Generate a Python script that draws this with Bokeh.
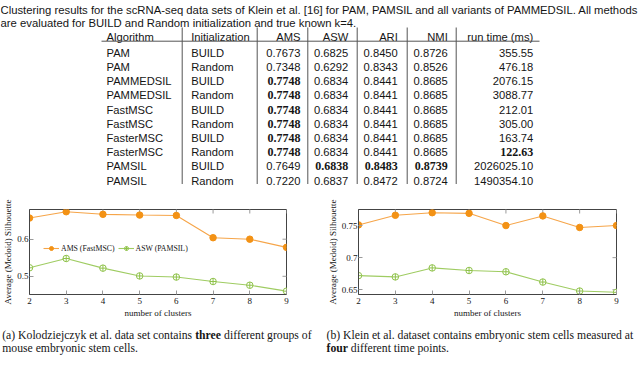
import math
from bokeh.plotting import figure
from bokeh.layouts import column, row
from bokeh.models import Range1d, FixedTicker, ColumnDataSource
from bokeh.core.properties import value
from bokeh.embed import file_html
from bokeh.resources import INLINE

# ---------------- data ----------------
caption_lines = [
    "Clustering results for the scRNA-seq data sets of Klein et al. [16] for PAM, PAMSIL and all variants of PAMMEDSIL. All methods",
    "are evaluated for BUILD and Random initialization and true known k=4.",
]
headers = ["Algorithm", "Initialization", "AMS", "ASW", "ARI", "NMI", "run time (ms)"]
algorithms = ["PAM", "PAM", "PAMMEDSIL", "PAMMEDSIL", "FastMSC", "FastMSC",
              "FasterMSC", "FasterMSC", "PAMSIL", "PAMSIL"]
initializations = ["BUILD", "Random"] * 5
ams = [0.7673, 0.7348, 0.7748, 0.7748, 0.7748, 0.7748, 0.7748, 0.7748, 0.7649, 0.7220]
asw = [0.6825, 0.6292, 0.6834, 0.6834, 0.6834, 0.6834, 0.6834, 0.6834, 0.6838, 0.6837]
ari = [0.8450, 0.8343, 0.8441, 0.8441, 0.8441, 0.8441, 0.8441, 0.8441, 0.8483, 0.8472]
nmi = [0.8726, 0.8526, 0.8685, 0.8685, 0.8685, 0.8685, 0.8685, 0.8685, 0.8739, 0.8724]
run_time_ms = [355.55, 476.18, 2076.15, 3088.77, 212.01, 305.00, 163.74, 122.63,
               2026025.10, 1490354.10]

clusters = [2, 3, 4, 5, 6, 7, 8, 9]
kolo_ams = [0.657, 0.674, 0.667, 0.665, 0.664, 0.604, 0.600, 0.578]
kolo_asw = [0.523, 0.548, 0.522, 0.501, 0.498, 0.486, 0.476, 0.460]
klein_ams = [0.751, 0.766, 0.770, 0.769, 0.750, 0.765, 0.747, 0.750]
klein_asw = [0.672, 0.670, 0.684, 0.680, 0.678, 0.662, 0.648, 0.646]
kolo_yticks = [0.5, 0.6]
klein_yticks = [0.65, 0.7, 0.75]
series_labels = ["AMS (FastMSC)", "ASW (PAMSIL)"]
x_label = "number of clusters"
y_label = "Average (Medoid) Silhouette"
caption_a = [[("(a) Kolodziejczyk et al. data set contains ", False), ("three", True),
              (" different groups of", False)],
             [("mouse embryonic stem cells.", False)]]
caption_b = [[("(b) Klein et al. dataset contains embryonic stem cells measured at", False)],
             [("four", True), (" different time points.", False)]]

# ---------------- layout constants (page pixels) ----------------
W = 640
TOP_H = 186          # page y 0..186
CH_H = 134           # page y 186..320
BOT_H = 46           # page y 320..366
SANS_NAME = "Liberation Sans"
SERIF_NAME = "Liberation Serif"
SANS = value(SANS_NAME)
SERIF = value(SERIF_NAME)
INK = "#151515"
RULE = "#555555"
ORANGE = "#f39215"
ORANGE_LINE = "#f6a549"
GREEN = "#8fc24a"
GREEN_LINE = "#9fcc62"
TICK = "#9a9a9a"
FRAME = "#444444"


def canvas(h):
    p = figure(width=W, height=h, x_range=Range1d(0, W), y_range=Range1d(h, 0),
               output_backend="svg", toolbar_location=None,
               x_axis_location=None, y_axis_location=None,
               min_border=0, outline_line_color=None,
               background_fill_color="white", border_fill_color="white")
    p.grid.visible = False
    return p


# ---------------- top: caption + table ----------------
top = canvas(TOP_H)
top.text(x=[0, 0], y=[9.0, 22.5], text=caption_lines,
         text_font=SANS, text_font_size="11.3px", text_color=INK,
         text_baseline="alphabetic", text_align="left")

col_x = [106, 190.7, 300, 347.7, 397.3, 447.3, 532.7]
col_align = ["left", "left", "right", "right", "right", "right", "right"]
rule_x = [181.7, 256.7, 307.3, 356.7, 406.7, 455.7]
header_base = 36.8
row_base = 52.3
row_step = 14.2

for cx, al, h in zip(col_x, col_align, headers):
    top.text(x=[cx], y=[header_base], text=[h], text_font=SANS,
             text_font_size="11.2px", text_color=INK, text_baseline="alphabetic",
             text_align=al)


def fmt4(v):
    return ["%.4f" % x for x in v]


columns = [
    (algorithms, [False] * len(algorithms)),
    (initializations, [False] * len(initializations)),
    (fmt4(ams), [x == max(ams) for x in ams]),
    (fmt4(asw), [x == max(asw) for x in asw]),
    (fmt4(ari), [x == max(ari) for x in ari]),
    (fmt4(nmi), [x == max(nmi) for x in nmi]),
    (["%.2f" % x for x in run_time_ms], [x == min(run_time_ms) for x in run_time_ms]),
]
for (texts, bold), cx, al in zip(columns, col_x, col_align):
    ys = [row_base + i * row_step for i in range(len(texts))]
    reg = ColumnDataSource(dict(x=[cx] * sum(not b for b in bold),
                                y=[y for y, b in zip(ys, bold) if not b],
                                t=[t for t, b in zip(texts, bold) if not b]))
    top.text(x="x", y="y", text="t", source=reg, text_font=SANS, text_font_size="11.2px",
             text_color=INK, text_baseline="alphabetic", text_align=al)
    if any(bold):
        bsrc = ColumnDataSource(dict(x=[cx] * sum(bold),
                                     y=[y for y, b in zip(ys, bold) if b],
                                     t=[t for t, b in zip(texts, bold) if b]))
        top.text(x="x", y="y", text="t", source=bsrc, text_font=SERIF,
                 text_font_style="bold", text_font_size="12px", text_color=INK,
                 text_baseline="alphabetic", text_align=al)

top.segment(x0=rule_x, y0=[27] * len(rule_x), x1=rule_x, y1=[183.5] * len(rule_x),
            line_color=RULE, line_width=1)
top.segment(x0=[101], y0=[40.7], x1=[539], y1=[40.7], line_color=RULE, line_width=1)


# ---------------- charts ----------------
def chart(ams_vals, asw_vals, yticks, ylim, bl, br, with_legend):
    p = figure(width=320, height=CH_H,
               x_range=Range1d(clusters[0], clusters[-1]), y_range=Range1d(*ylim),
               output_backend="svg", toolbar_location=None,
               min_border_left=bl, min_border_right=br,
               min_border_top=23, min_border_bottom=25,
               outline_line_color=FRAME, outline_line_width=1,
               background_fill_color="white", border_fill_color="white")
    p.grid.visible = False

    xa = p.xaxis[0]
    xa.ticker = FixedTicker(ticks=clusters)
    xa.axis_label = x_label
    xa.major_label_standoff = 3
    xa.axis_label_standoff = 1
    ya = p.yaxis[0]
    ya.ticker = FixedTicker(ticks=yticks)
    ya.major_label_overrides = {t: ("%g" % t) for t in yticks}
    ya.axis_label = y_label
    ya.major_label_standoff = 1
    ya.axis_label_standoff = 1
    for ax in (xa, ya):
        ax.major_label_text_font = SERIF_NAME
        ax.major_label_text_font_size = "9px"
        ax.major_label_text_color = INK
        ax.axis_label_text_font = SERIF_NAME
        ax.axis_label_text_font_size = "9px"
        ax.axis_label_text_font_style = "normal"
        ax.axis_label_text_color = INK
        ax.major_tick_in = 4
        ax.major_tick_out = 0
        ax.major_tick_line_color = TICK
        ax.minor_tick_line_color = None
        ax.axis_line_color = FRAME

    # mirrored inward ticks on the top and right edges (half of each dash is clipped)
    p.scatter(clusters, [ylim[1]] * len(clusters), marker="dash", angle=math.pi / 2,
              size=8, line_color=TICK, line_width=1)
    p.scatter([clusters[-1]] * len(yticks), yticks, marker="dash",
              size=8, line_color=TICK, line_width=1)

    kw_a = dict(legend_label=series_labels[0]) if with_legend else {}
    kw_b = dict(legend_label=series_labels[1]) if with_legend else {}
    p.line(clusters, ams_vals, line_color=ORANGE_LINE, line_width=1.1, **kw_a)
    p.scatter(clusters, ams_vals, marker="circle", size=6.5, fill_color=ORANGE,
              line_color=ORANGE, **kw_a)
    p.line(clusters, asw_vals, line_color=GREEN_LINE, line_width=1.1, **kw_b)
    p.scatter(clusters, asw_vals, marker="circle_cross", size=6.5, fill_color="white",
              line_color=GREEN, line_width=1, **kw_b)

    if with_legend:
        lg = p.legend[0]
        lg.location = (14, 41)
        lg.orientation = "horizontal"
        lg.label_text_font = SERIF_NAME
        lg.label_text_font_size = "7.8px"
        lg.label_text_color = INK
        lg.glyph_width = 16
        lg.glyph_height = 10
        lg.label_height = 10
        lg.label_standoff = 2
        lg.spacing = 3
        lg.padding = 0
        lg.margin = 0
        lg.background_fill_alpha = 0
        lg.border_line_alpha = 0
    return p


left = chart(kolo_ams, kolo_asw, kolo_yticks, (0.451, 0.680), 27, 34, True)
right = chart(klein_ams, klein_asw, klein_yticks, (0.6426, 0.775), 38, 24, False)

# ---------------- bottom captions ----------------
TIMES = {' ': 250, '(': 333, ')': 333, '.': 250, 'a': 444, 'b': 500, 'c': 444, 'd': 500,
         'e': 444, 'f': 333, 'g': 500, 'h': 500, 'i': 278, 'j': 278, 'k': 500, 'l': 278,
         'm': 778, 'n': 500, 'o': 500, 'p': 500, 'r': 333, 's': 389, 't': 278, 'u': 500,
         'v': 500, 'w': 722, 'y': 500, 'z': 444, 'K': 722}
TIMES_B = {' ': 250, 't': 333, 'h': 556, 'r': 444, 'e': 444, 'f': 333, 'o': 500, 'u': 556}
CAP_FS = 11.7


def width(s, bold):
    tab = TIMES_B if bold else TIMES
    return sum(tab.get(c, 500) for c in s) / 1000.0 * CAP_FS


bot = canvas(BOT_H)
for cap, x0 in ((caption_a, 1.7), (caption_b, 326)):
    for line, base in zip(cap, (15.0, 28.4)):
        x = x0
        for s, b in line:
            lead = len(s) - len(s.lstrip(" "))
            x += width(" " * lead, b)
            body = s.strip(" ")
            bot.text(x=[x], y=[base], text=[body], text_font=SERIF,
                     text_font_style="bold" if b else "normal",
                     text_font_size="%gpx" % CAP_FS, text_color=INK,
                     text_baseline="alphabetic", text_align="left")
            x += width(s.lstrip(" "), b)

layout = column(top, row(left, right), bot)
open("out.html", "w").write(file_html(layout, INLINE))
